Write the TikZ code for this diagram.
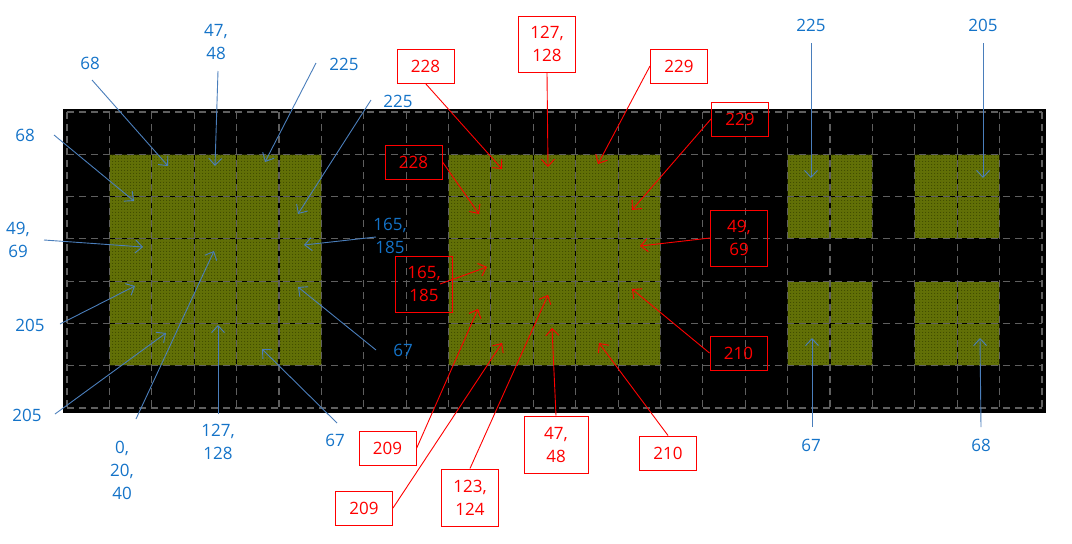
\documentclass[tikz,border=0pt]{standalone}
\usepackage{fontspec}
\setmainfont{Open Sans}
\usetikzlibrary{arrows.meta,patterns}
\definecolor{labblue}{RGB}{20,115,200}
\definecolor{arrblue}{RGB}{74,126,187}
\definecolor{olivefill}{RGB}{98,112,6}
\definecolor{olivedark}{RGB}{58,70,0}
\definecolor{olivelight}{RGB}{135,150,28}
\definecolor{gridgray}{RGB}{95,95,95}
\tikzset{
  lab/.style={font=\fontsize{17pt}{23pt}\selectfont, align=center, inner sep=0pt},
  bluelab/.style={lab, text=labblue},
  redbox/.style={lab, text=red, draw=red, line width=1pt, minimum width=57pt, minimum height=34pt},
  bluearr/.style={draw=arrblue, line width=0.9pt, -{Straight Barb[length=7pt,width=13pt]}},
  redarr/.style={draw=red, line width=0.9pt, -{Straight Barb[length=7pt,width=13pt]}},
  block/.style={fill=olivefill, postaction={pattern=crosshatch dots, pattern color=olivedark}, postaction={pattern=dots, pattern color=olivelight}},
  gridline/.style={draw=gridgray, line width=1.1pt, dash pattern=on 7pt off 5pt},
}
\newcommand{\cx}[1]{67+42.39*#1}
\newcommand{\cy}[1]{112+42.29*#1}
\newcommand{\blockpath}{%
  ({\cx{1}},{\cy{1}}) rectangle ({\cx{6}},{\cy{6}})
  ({\cx{9}},{\cy{1}}) rectangle ({\cx{14}},{\cy{6}})
  ({\cx{17}},{\cy{1}}) rectangle ({\cx{19}},{\cy{3}})
  ({\cx{17}},{\cy{4}}) rectangle ({\cx{19}},{\cy{6}})
  ({\cx{20}},{\cy{1}}) rectangle ({\cx{22}},{\cy{3}})
  ({\cx{20}},{\cy{4}}) rectangle ({\cx{22}},{\cy{6}})}
\begin{document}
\begin{tikzpicture}[x=1pt,y=-1pt]
\useasboundingbox (0,0) rectangle (1072,544);
% background
\fill[black] (63,109) rectangle (1046,413);
% blocks
\path[block] \blockpath;
% inner grid lines of the blocks (dark)
\begin{scope}
\clip \blockpath;
\foreach \i in {0,...,23} \draw[black, line width=1.1pt] ({\cx{\i}},112) -- ({\cx{\i}},408);
\foreach \j in {0,...,7} \draw[black, line width=1.1pt] (67,{\cy{\j}}) -- (1042,{\cy{\j}});
\end{scope}
% grid
\foreach \i in {0,...,23} \draw[gridline] ({\cx{\i}},112) -- ({\cx{\i}},408);
\foreach \j in {0,...,7} \draw[gridline] (67,{\cy{\j}}) -- (1042,{\cy{\j}});

% blue labels
\node[bluelab] (b1) at (90,63) {68};
\node[bluelab] (b2) at (25,135) {68};
\node[bluelab] (b3) at (216,42) {47,\\48};
\node[bluelab] (b4) at (344,64) {225};
\node[bluelab] (b5) at (398,101) {225};
\node[bluelab] (b6) at (18,240) {49,\\69};
\node[bluelab] (b7) at (390,236) {165,\\185};
\node[bluelab] (b8) at (30,325) {205};
\node[bluelab] (b9) at (27,415) {205};
\node[bluelab] (b10) at (122,470) {0,\\20,\\40};
\node[bluelab] (b11) at (218,442) {127,\\128};
\node[bluelab] (b12) at (335,440) {67};
\node[bluelab] (b13) at (403,350) {67};
\node[bluelab] (b14) at (811,25) {225};
\node[bluelab] (b15) at (983,25) {205};
\node[bluelab] (b16) at (811,445) {67};
\node[bluelab] (b17) at (981,445) {68};

% blue arrow ends
\coordinate (s1) at (92,80);   \coordinate (t1) at (168,166);
\coordinate (s2) at (54,135);  \coordinate (t2) at (134,201);
\coordinate (s3) at (218,71);  \coordinate (t3) at (215,166);
\coordinate (s4) at (316,63);  \coordinate (t4) at (265,162);
\coordinate (s5) at (371,100); \coordinate (t5) at (298,214);
\coordinate (s6) at (44,240);  \coordinate (t6) at (143,247);
\coordinate (s7) at (376,237); \coordinate (t7) at (304,245);
\coordinate (s8) at (60,324);  \coordinate (t8) at (135,286);
\coordinate (s9) at (55,414);  \coordinate (t9) at (166,333);
\coordinate (s10) at (136,419); \coordinate (t10) at (214,251);
\coordinate (s11) at (218,414); \coordinate (t11) at (218,325);
\coordinate (s12) at (337,423); \coordinate (t12) at (262,349);
\coordinate (s13) at (376,350); \coordinate (t13) at (298,287);
\coordinate (s14) at (811,43);  \coordinate (t14) at (811,178);
\coordinate (s15) at (983,43);  \coordinate (t15) at (983,178);
\coordinate (s16) at (812,427); \coordinate (t16) at (812,338);
\coordinate (s17) at (981,427); \coordinate (t17) at (980,338);
\foreach \k in {1,...,17} \draw[bluearr] (s\k) -- (t\k);

% red boxes
\node[redbox] (rA) at (425.5,66) {228};
\node[redbox, minimum height=56pt] (rB) at (547,44) {127,\\128};
\node[redbox] (rC) at (679,66) {229};
\node[redbox] (rD) at (740,119) {229};
\node[redbox] (rE) at (413.5,162) {228};
\node[redbox, minimum height=56pt] (rF) at (739,238) {49,\\69};
\node[redbox, minimum height=56pt] (rG) at (424,284) {165,\\185};
\node[redbox] (rH) at (387.5,448.5) {209};
\node[redbox] (rI) at (364,508) {209};
\node[redbox, minimum height=57pt] (rJ) at (470,497.5) {123,\\124};
\node[redbox, minimum width=64pt, minimum height=57pt] (rK) at (556,444.5) {47,\\48};
\node[redbox] (rL) at (668,453) {210};
\node[redbox] (rM) at (738.5,353) {210};

% red arrows
\coordinate (tA) at (502,169);
\coordinate (tB) at (548,167);
\coordinate (tC) at (598,164);
\coordinate (tD) at (632,210);
\coordinate (tE) at (479,214);
\coordinate (tF) at (640,246);
\coordinate (sG) at (440,284); \coordinate (tG) at (487,267);
\coordinate (tH) at (478,309);
\coordinate (tI) at (502,343);
\coordinate (tJ) at (548,295);
\coordinate (tK) at (552,328);
\coordinate (tL) at (599,343);
\coordinate (tM) at (632,289);
\draw[redarr] (rA.south) -- (tA);
\draw[redarr] (rB.south) -- (tB);
\draw[redarr] (rC.west) -- (tC);
\draw[redarr] (rD.west) -- (tD);
\draw[redarr] (rE.east) -- (tE);
\draw[redarr] (rF.west) -- (tF);
\draw[redarr] (sG) -- (tG);
\draw[redarr] (rH.east) -- (tH);
\draw[redarr] (rI.east) -- (tI);
\draw[redarr] (rJ.north) -- (tJ);
\draw[redarr] (rK.north) -- (tK);
\draw[redarr] (rL.north) -- (tL);
\draw[redarr] (rM.west) -- (tM);
\end{tikzpicture}
\end{document}
